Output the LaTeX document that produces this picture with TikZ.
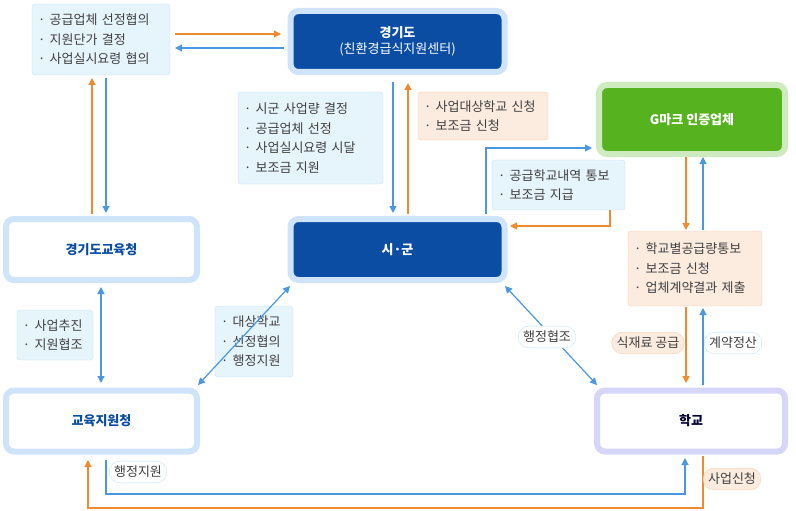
\documentclass[tikz,border=0pt]{standalone}
\usepackage{fontspec}
\setmainfont{Noto Sans CJK KR}
\usetikzlibrary{arrows.meta}
\definecolor{navy}{HTML}{0A4DA2}
\definecolor{ringblue}{HTML}{CFE3FA}
\definecolor{ringgreen}{HTML}{CDEBBE}
\definecolor{ringlav}{HTML}{D6D6FA}
\definecolor{gmark}{HTML}{56B21F}
\definecolor{listblue}{HTML}{E6F4FC}
\definecolor{listedge}{HTML}{C6E2F5}
\definecolor{listor}{HTML}{FCEBDF}
\definecolor{oredge}{HTML}{F5CFB2}
\definecolor{arrblue}{HTML}{4A97E2}
\definecolor{arror}{HTML}{F08A2E}
\tikzset{
  main/.style={draw=#1, line width=6pt, rounded corners=8pt, minimum width=214pt, minimum height=61pt, font=\fontsize{13}{17}\selectfont\bfseries},
  dark/.style={main=ringblue, fill=navy, text=white},
  light/.style={main=ringblue, fill=white, text=navy, minimum width=191pt},
  list/.style={draw=listedge, fill=listblue, rounded corners=3pt, align=left, font=\fontsize{13}{19.5}\selectfont, inner sep=6pt, text=black!75},
  olist/.style={list, draw=oredge, fill=listor},
  pill/.style={draw=listedge, fill=white, rounded corners=11pt, font=\fontsize{13}{15}\selectfont, inner sep=5pt, text=black!75},
  opill/.style={pill, draw=oredge, fill=listor},
  ba/.style={arrblue, line width=1.2pt, -{Triangle[length=7pt,width=7pt]}},
  oa/.style={arror, line width=1.2pt, -{Triangle[length=7pt,width=7pt]}},
  bb/.style={ba, {Triangle[length=7pt,width=7pt]}-{Triangle[length=7pt,width=7pt]}}
}
\begin{document}
\begin{tikzpicture}[x=1pt, y=-1pt]
\useasboundingbox (0,0) rectangle (796,511);
% main boxes
\node[dark, align=center] (gg) at (397.5,41.5) {경기도\\[-1pt]{\normalfont (친환경급식지원센터)}};
\node[dark] (sg) at (397.5,249.5) {시·군};
\node[main=ringgreen, fill=gmark, text=white, minimum width=186pt, minimum height=69pt] (gm) at (692,119.5) {G마크 인증업체};
\node[light] (edu) at (101.5,249.5) {경기도교육청};
\node[light] (office) at (101.5,421) {교육지원청};
\node[light, draw=ringlav, text=black!80!blue, minimum width=188pt] (school) at (691,421) {학교};
% lists
\node[list, text width=126pt, minimum height=71pt] (l1) at (101,39.5) {· 공급업체 선정협의\\· 지원단가 결정\\· 사업실시요령 협의};
\node[list, text width=133pt, minimum height=92pt] (l2) at (310.5,138) {· 시군 사업량 결정\\· 공급업체 선정\\· 사업실시요령 시달\\· 보조금 지원};
\node[olist, text width=118pt, minimum height=48pt] (l3) at (483,116) {· 사업대상학교 신청\\· 보조금 신청};
\node[list, text width=121pt, minimum height=50pt] (l4) at (558.5,185) {· 공급학교내역 통보\\· 보조금 지급};
\node[olist, text width=122pt, minimum height=75pt] (l5) at (695,268.5) {· 학교별공급량통보\\· 보조금 신청\\· 업체계약결과 제출};
\node[list, text width=64pt, minimum height=50pt] (l6) at (55,335) {· 사업추진\\· 지원협조};
\node[list, text width=66pt, minimum height=71pt] (l7) at (254,341.5) {· 대상학교\\· 선정협의\\· 행정지원};
% connectors
\draw[oa] (175,34) -- (281,34);
\draw[ba] (284,48) -- (175,48);
\draw[oa] (92,214) -- (92,78);
\draw[ba] (106,78) -- (106,213);
\draw[ba] (393,82) -- (393,213);
\draw[oa] (408,214) -- (408,83);
\draw[ba] (486,214) |- (592,148);
\draw[oa] (l4.south -| 610,0) |- (510,226);
\draw[oa] (686,157) -- (686,230);
\draw[ba] (703,230) -- (703,157);
\draw[oa] (686,307) -- (686,383);
\draw[ba] (703,385) -- (703,308);
\draw[bb] (290,286) -- (198,385);
\draw[bb] (505,286) -- (597,385);
\draw[bb] (101,287) -- (101,383);
\draw[ba] (106,460) |- (685,494) -- (685,458);
\draw[oa] (703,456) |- (88,508) -- (88,460);
% labels
\node[pill] (p1) at (547,337) {행정협조};
\node[opill] (p2) at (648,343) {식재료 공급};
\node[pill] (p3) at (733,343) {계약정산};
\node[pill] (p4) at (138,472) {행정지원};
\node[opill] (p5) at (732,479) {사업신청};
\end{tikzpicture}
\end{document}
